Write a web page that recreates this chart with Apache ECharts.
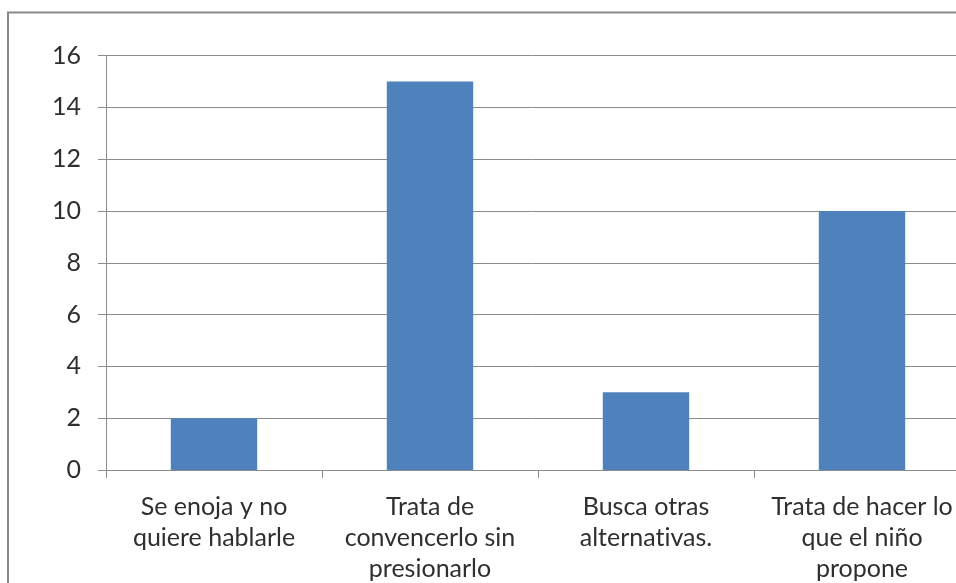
<!DOCTYPE html>
<html>
<head>
<meta charset="utf-8">
<script src="https://cdn.jsdelivr.net/npm/echarts@6/dist/echarts.min.js"></script>
<style>
  html, body { margin: 0; padding: 0; background: #fff; }
  #chart { width: 956px; height: 583px; }
</style>
</head>
<body>
<div id="chart"></div>
<script>
// Responses and how many parents gave each one
const categories = [
  'Se enoja y no\nquiere hablarle',
  'Trata de\nconvencerlo sin\npresionarlo',
  'Busca otras\nalternat\u200Civas.',
  'Trata de hacer lo\nque el niño\npropone'
];
const counts = [2, 15, 3, 10];
const yMin = 0;
const yMax = 16;
const yStep = 2;

const lineColor = '#8c8c8c';
const textColor = '#2f2f2f';
const fontFamily = 'Lato, "Open Sans", sans-serif';

const chart = echarts.init(document.getElementById('chart'), null, { renderer: 'canvas' });

chart.setOption({
  animation: false,
  backgroundColor: '#ffffff',
  graphic: [{
    type: 'rect',
    shape: { x: 8, y: 12.5, width: 1100, height: 800 },
    style: { fill: 'none', stroke: '#888888', lineWidth: 2 },
    silent: true,
    z: 0
  }],
  grid: {
    left: 106,
    top: 55.5,
    width: 864,
    height: 414.5,
    outerBoundsMode: 'none',
    containLabel: false
  },
  xAxis: {
    type: 'category',
    data: categories,
    boundaryGap: true,
    axisLine: { show: true, lineStyle: { color: lineColor, width: 1 } },
    axisTick: { show: true, length: 8, lineStyle: { color: lineColor } },
    axisLabel: {
      interval: 0,
      margin: 21,
      color: textColor,
      fontFamily: fontFamily,
      fontSize: 25,
      lineHeight: 31,
      align: 'center'
    },
    splitLine: { show: false }
  },
  yAxis: {
    type: 'value',
    min: yMin,
    max: yMax,
    interval: yStep,
    axisLine: { show: true, lineStyle: { color: lineColor, width: 1 } },
    axisTick: { show: true, length: 8, lineStyle: { color: lineColor } },
    axisLabel: {
      margin: 25,
      color: textColor,
      fontFamily: fontFamily,
      fontSize: 25
    },
    splitLine: { show: true, lineStyle: { color: lineColor, width: 1 } }
  },
  series: [{
    type: 'bar',
    data: counts,
    barCategoryGap: '60%',
    itemStyle: { color: '#4f81bd' }
  }]
});
</script>
</body>
</html>
